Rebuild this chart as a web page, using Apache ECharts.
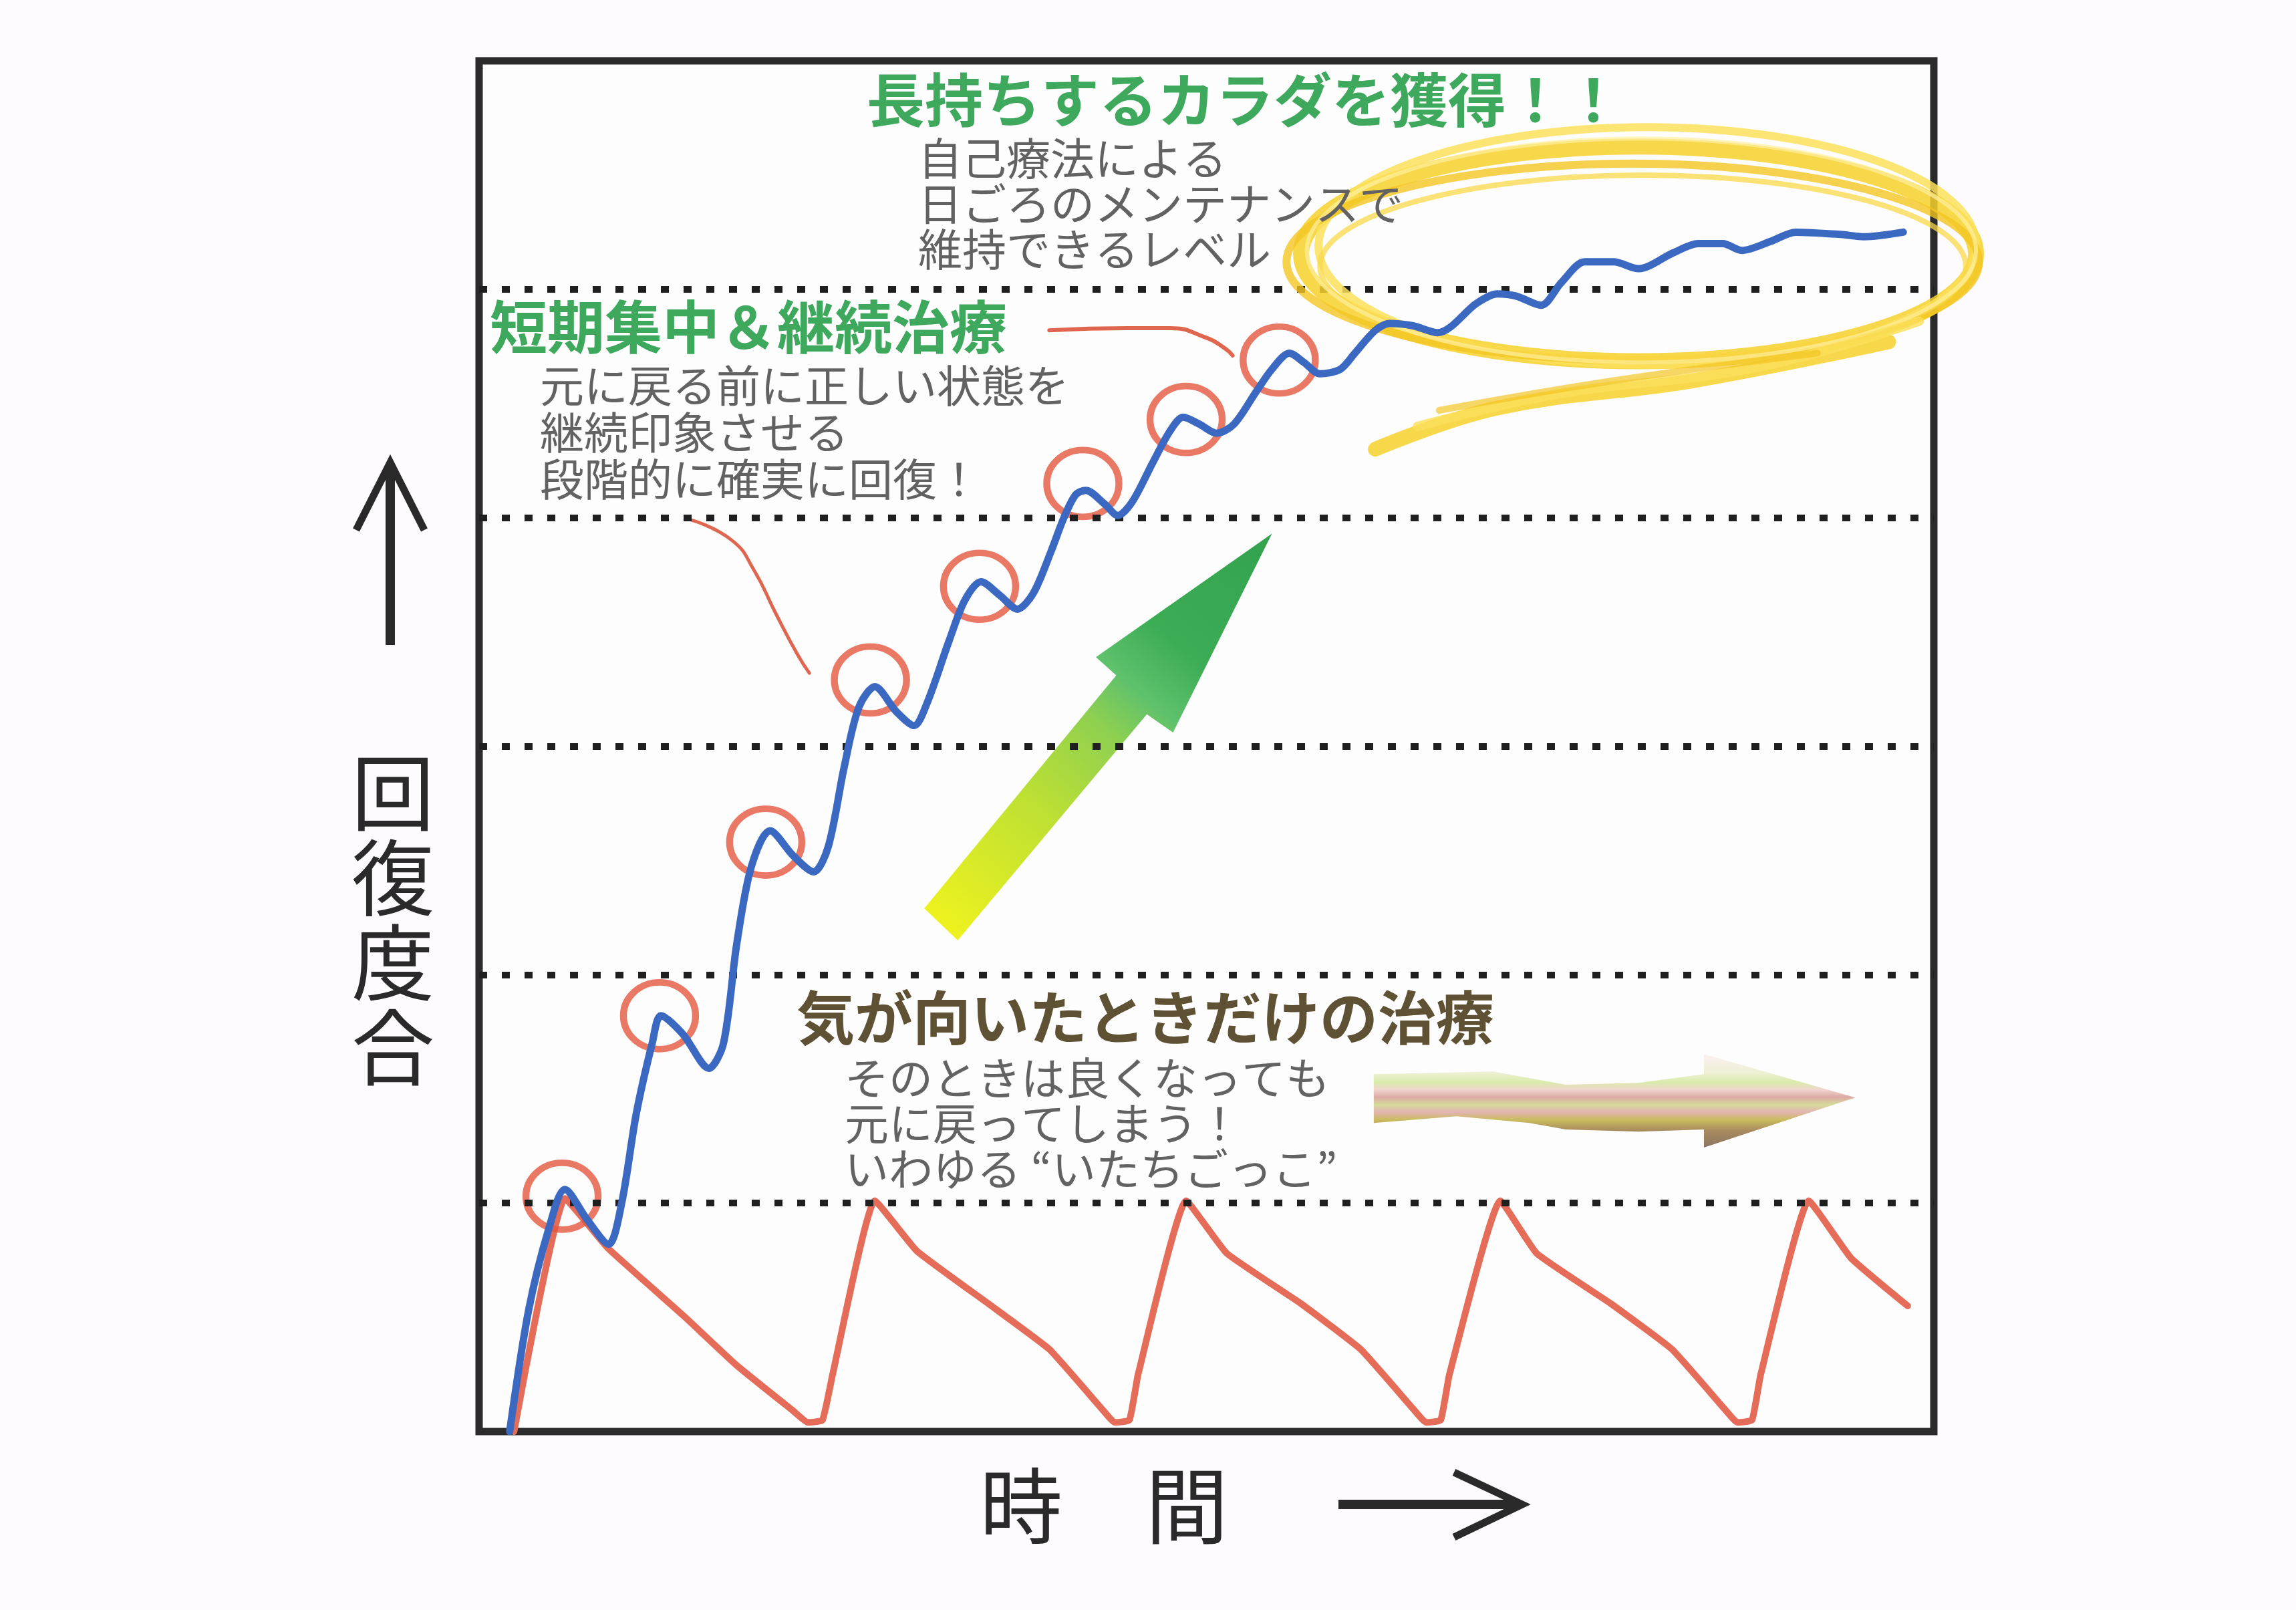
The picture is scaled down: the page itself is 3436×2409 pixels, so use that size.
<!DOCTYPE html>
<html><head><meta charset="utf-8">
<script src="https://cdn.jsdelivr.net/npm/echarts@6/dist/echarts.min.js"></script>
<style>html,body{margin:0;padding:0;background:#fdfbfd;}#c{width:3436px;height:2409px;}</style>
</head><body><div id="c"></div>
<script>
// ---- data (x: time 0..100, y: recovery level 0..6) ----
const gridLevels = [1, 2, 3, 4, 5];
const blueX = [2.1,3.4,4.8,5.9,7.4,8.9,9.8,10.8,11.9,12.5,14.0,15.8,16.8,17.7,18.7,20.0,21.6,23.0,24.0,25.1,26.1,27.2,28.7,29.9,30.8,32.3,33.4,34.5,35.8,37.0,38.1,39.3,40.2,41.0,41.7,43.0,43.9,44.9,46.3,47.5,48.4,49.5,50.7,51.9,53.4,54.5,55.7,56.7,57.8,59.2,60.2,61.6,62.6,64.2,65.9,68.6,70.0,71.3,73.0,74.4,76.0,78.0,79.7,82.1,83.8,85.5,86.8,88.8,90.5,93.6,95.2,97.9];
const blueY = [0,0.53,0.89,1.06,0.93,0.82,1.00,1.39,1.70,1.82,1.74,1.59,1.70,2.13,2.47,2.63,2.52,2.45,2.56,2.91,3.17,3.26,3.15,3.09,3.19,3.46,3.64,3.72,3.66,3.60,3.67,3.85,4.00,4.10,4.12,4.06,4.01,4.07,4.24,4.38,4.44,4.41,4.37,4.41,4.55,4.65,4.72,4.68,4.63,4.65,4.72,4.82,4.85,4.84,4.81,4.94,4.98,4.97,4.93,5.03,5.12,5.12,5.09,5.16,5.20,5.20,5.17,5.21,5.25,5.24,5.23,5.25];
const redX = [2.4,5.9,8.9,14.0,17.7,21.6,22.6,23.6,24.3,27.2,30.1,35.0,39.2,42.8,43.7,44.7,45.3,48.6,51.4,56.5,60.6,64.2,65.1,66.1,66.7,70.2,72.7,77.8,82.0,85.6,86.5,87.5,88.1,91.4,94.3,98.2];
const redY = [0,1.02,0.80,0.51,0.29,0.09,0.04,0.05,0.25,1.01,0.79,0.56,0.36,0.10,0.04,0.05,0.25,1.01,0.78,0.56,0.36,0.10,0.04,0.05,0.25,1.01,0.78,0.56,0.36,0.10,0.04,0.05,0.25,1.01,0.76,0.55];
const circleX = [5.7,12.4,19.7,26.9,34.4,41.5,48.6,55.0];
const circleY = [1.03,1.82,2.58,3.29,3.70,4.15,4.43,4.69];
const leaderAX = [39.2,44.6,47.5,49.9,51.3,51.8];
const leaderAY = [4.82,4.83,4.83,4.79,4.74,4.71];
const leaderBX = [14.6,17.4,18.9,20.4,21.9,22.7];
const leaderBY = [3.99,3.90,3.77,3.58,3.40,3.32];

// ---- texts ----
const headTop = '長持ちするカラダを獲得！！';
const linesTop = ['自己療法による', '日ごろのメンテナンスで', '維持できるレベル'];
const headMid = '短期集中＆継続治療';
const linesMid = ['元に戻る前に正しい状態を', '継続印象させる', '段階的に確実に回復！'];
const headLow = '気が向いたときだけの治療';
const linesLow = ['そのときは良くなっても', '元に戻ってしまう！', 'いわゆる “いたちごっこ”'];
const yName = '回復度合';
const xName = '時　間';

const zip = (xs, ys) => xs.map((x, i) => [x, ys[i]]);
const FONT = '"Noto Sans CJK JP", "Noto Sans CJK SC", sans-serif';

function renderDecor(params, api) {
  const P = (x, y) => api.coord([x, y]);
  const kids = [];
  // green gradient arrow
  const g = [[30.6,2.29],[43.8,3.31],[42.4,3.39],[54.5,3.93],[47.7,3.06],[45.9,3.14],[32.9,2.15]].map(p => P(p[0], p[1]));
  const gt = P(31.75, 2.22), gh = P(54.4, 3.92);
  kids.push({type: 'polygon', shape: {points: g}, style: {fill: new echarts.graphic.LinearGradient(gt[0], gt[1], gh[0], gh[1], [
    {offset: 0, color: '#eef21e'}, {offset: 0.3, color: '#bde033'}, {offset: 0.5, color: '#8fd050'},
    {offset: 0.6, color: '#5fc16c'}, {offset: 0.72, color: '#3cad55'}, {offset: 1, color: '#33a24e'}], true)}});
  // pastel horizontal arrow
  const b = [[61.5,1.564],[69.7,1.576],[74.7,1.518],[79.7,1.526],[84.2,1.564],[84.2,1.652],[94.6,1.462],[84.2,1.243],[84.2,1.322],[79.7,1.313],[74.7,1.322],[72.2,1.351],[67.2,1.380],[61.5,1.351]].map(p => P(p[0], p[1]));
  const bt = P(80, 1.652), bb = P(80, 1.243);
  kids.push({type: 'polygon', shape: {points: b}, style: {fill: new echarts.graphic.LinearGradient(bt[0], bt[1], bb[0], bb[1], [
    {offset: 0, color: '#fbf0f2'}, {offset: 0.2, color: '#eef0d4'}, {offset: 0.3, color: '#d9ebaa'},
    {offset: 0.38, color: '#f0d6cf'}, {offset: 0.46, color: '#dcaaa6'}, {offset: 0.54, color: '#d5dc9a'},
    {offset: 0.62, color: '#e3b4b4'}, {offset: 0.7, color: '#c9bd5e'}, {offset: 0.82, color: '#a88a5e'}, {offset: 1, color: '#8c7564'}], true)}});
  return {type: 'group', children: kids};
}

function renderHighlight(params, api) {
  const P = (x, y) => api.coord([x, y]);
  const u = api.size([1, 1]);
  const kids = [];
  const strokes = [
    [79.7, 5.155, 23.2, 0.47, 24, '#f7d12b', 0.85],
    [80.3, 5.19, 22.6, 0.52, 12, '#fbe05a', 0.85],
    [79.3, 5.12, 23.8, 0.43, 12, '#f2c522', 0.8],
    [80.0, 5.10, 22.2, 0.40, 8, '#f9d84a', 0.75],
    [79.9, 5.17, 23.0, 0.49, 6, '#fff0a0', 0.7]
  ];
  strokes.forEach(s => {
    const c = P(s[0], s[1]);
    kids.push({type: 'ellipse', shape: {cx: c[0], cy: c[1], rx: s[2] * u[0], ry: s[3] * u[1]},
      style: {fill: 'none', stroke: s[5], lineWidth: s[4], opacity: s[6]}});
  });
  const tails = [
    [[[61.6,4.30],[70.0,4.48],[83.5,4.60],[96.9,4.77]], 22, '#f7d12b', 0.85],
    [[[64.5,4.40],[74.0,4.54],[88.0,4.66],[99.0,4.86]], 14, '#fbe05a', 0.8],
    [[[66.0,4.47],[78.0,4.60],[92.0,4.72]], 10, '#f2c522', 0.7]
  ];
  tails.forEach(t => {
    kids.push({type: 'polyline', shape: {points: t[0].map(p => P(p[0], p[1])), smooth: 0.4},
      style: {fill: 'none', stroke: t[2], lineWidth: t[1], opacity: t[3], lineCap: 'round'}});
  });
  return {type: 'group', children: kids};
}

function txt(x, y, s, size, color, weight, extra) {
  return {type: 'text', x: x, y: y, z: 100,
    style: Object.assign({text: s, fontSize: size, fontFamily: FONT, fontWeight: weight || 'normal',
      fill: color, verticalAlign: 'middle', align: 'left'}, extra || {})};
}

const graphics = [];
graphics.push(txt(1297, 150, headTop, 87, '#3ea85c', 'bold'));
linesTop.forEach((s, i) => graphics.push(txt(1374, 237 + i * 68, s, 66, '#626262')));
graphics.push(txt(733, 489, headMid, 86, '#3ea85c', 'bold'));
linesMid.forEach((s, i) => graphics.push(txt(808, 577 + i * 70, s, 66, '#626262')));
graphics.push(txt(1192, 1523, headLow, 87, '#5f5234', 'bold'));
linesLow.forEach((s, i) => graphics.push(txt(1264, 1613 + i * 68, s, 66, '#626262')));
graphics.push(txt(588, 1376, yName.split('').join('\n'), 124, '#2a2a2a', 'normal', {align: 'center', lineHeight: 127}));
graphics.push(txt(1466, 2253, xName, 124, '#2a2a2a'));
// axis direction arrows
graphics.push({type: 'line', z: 100, shape: {x1: 584, y1: 965, x2: 584, y2: 694}, style: {stroke: '#2a2a2a', lineWidth: 14}});
graphics.push({type: 'polyline', z: 100, shape: {points: [[533, 793], [584, 692], [635, 793]]}, style: {stroke: '#2a2a2a', lineWidth: 11, fill: 'none'}});
graphics.push({type: 'line', z: 100, shape: {x1: 2003, y1: 2251, x2: 2274, y2: 2251}, style: {stroke: '#2a2a2a', lineWidth: 14}});
graphics.push({type: 'polyline', z: 100, shape: {points: [[2176, 2203], [2278, 2251], [2176, 2300]]}, style: {stroke: '#2a2a2a', lineWidth: 11, fill: 'none'}});

const chart = echarts.init(document.getElementById('c'), null, {renderer: 'canvas'});
chart.setOption({
  backgroundColor: '#fdfbfd',
  animation: false,
  grid: {left: 717, top: 91, right: 542, bottom: 267, show: true, borderColor: '#2b2b2b', borderWidth: 11, backgroundColor: '#fefdfe'},
  xAxis: {type: 'value', min: 0, max: 100, axisLine: {show: false}, axisTick: {show: false}, axisLabel: {show: false}, splitLine: {show: false}},
  yAxis: {type: 'value', min: 0, max: 6, interval: 1, axisLine: {show: false}, axisTick: {show: false}, axisLabel: {show: false}, splitLine: {show: false}},
  graphic: graphics,
  series: [
    {type: 'custom', name: 'arrows', z: 2, silent: true, renderItem: renderDecor, data: [[0, 0]]},
    {type: 'line', name: 'いたちごっこ', z: 3, data: zip(redX, redY), showSymbol: false, smooth: 0.12,
      lineStyle: {color: '#e46c58', width: 10, join: 'round', cap: 'round'},
      markLine: {silent: true, symbol: ['none', 'none'], label: {show: false},
        lineStyle: {color: '#1f1f1f', width: 10, type: [12, 22]},
        data: gridLevels.map(v => ({yAxis: v}))}},
    {type: 'line', name: 'leaderA', z: 4, data: zip(leaderAX, leaderAY), showSymbol: false, smooth: 0.5,
      lineStyle: {color: '#e0674f', width: 6, cap: 'round'}},
    {type: 'line', name: 'leaderB', z: 4, data: zip(leaderBX, leaderBY), showSymbol: false, smooth: 0.5,
      lineStyle: {color: '#e0674f', width: 5, cap: 'round'}},
    {type: 'scatter', name: 'circles', z: 4, data: zip(circleX, circleY), symbol: 'circle', symbolSize: [108, 100],
      itemStyle: {color: 'rgba(0,0,0,0)', borderColor: '#e4583f', borderWidth: 10}},
    {type: 'custom', name: 'highlight', z: 5, silent: true, renderItem: renderHighlight, data: [[0, 0]]},
    {type: 'line', name: '回復', z: 6, data: zip(blueX, blueY), showSymbol: false, smooth: 0.3,
      lineStyle: {color: '#3b68c0', width: 11, join: 'round', cap: 'round'}}
  ]
});
</script></body></html>
